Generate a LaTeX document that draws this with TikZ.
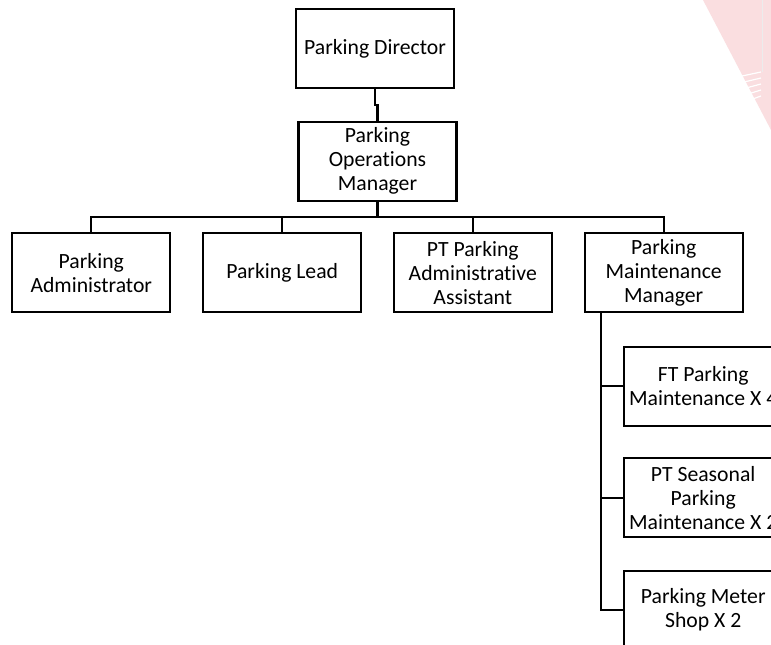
\documentclass[tikz,border=0pt]{standalone}
\usepackage{fontspec}
\setmainfont{Carlito}[Ligatures=NoCommon]
\definecolor{markpink}{RGB}{250,222,224}
\begin{document}
\begin{tikzpicture}[x=1pt,y=-1pt,
  post/.style={draw=black,line width=2.2pt,rectangle,minimum width=158pt,minimum height=79pt,
    inner sep=0pt,align=center,font=\fontsize{21.7}{24}\selectfont},
  link/.style={draw=black,line width=2.2pt}]
\useasboundingbox (0,0) rectangle (771,645);
\clip (0,0) rectangle (771,645);
\fill[white] (0,0) rectangle (771,645);

% faint logo in the corner
\fill[markpink] (703,0) -- (771,0) -- (771,130) -- cycle;
\draw[white!85!gray,line width=1pt] (762.5,0) -- (762.5,72);
\foreach \k in {0,1,2,3,4}
  \draw[white,line width=1.2pt] (742+2*\k,76+6*\k) -- (761,72+6*\k);

% positions
\node[post] (dir)   at (375,48.8)    {Parking Director};
\node[post] (ops)   at (377.5,161.2) {Parking\\Operations\\Manager};
\node[post] (adm)   at (91.3,272.8)  {Parking\\Administrator};
\node[post] (lead)  at (282.2,272.8) {Parking Lead};
\node[post] (pta)   at (472.8,272.8) {PT Parking\\Administrative\\Assistant};
\node[post] (pmm)   at (663.7,272.8) {Parking\\Maintenance\\Manager};
\node[post] (ft)    at (703.2,386.2) {FT Parking\\Maintenance X 4};
\node[post] (pts)   at (703.2,497.8) {PT Seasonal\\Parking\\Maintenance X 2};
\node[post] (meter) at (703.2,610.2) {Parking Meter\\Shop X 2};

\coordinate (jog) at (0,105);
\coordinate (bar) at (0,217.3);
\coordinate (spine) at (601,0);

% director to operations manager
\draw[link] (dir.south) -- (dir.south |- jog) -- (ops.north |- jog) -- (ops.north);

% operations manager to its reports
\draw[link] (ops.south) -- (ops.south |- bar);
\draw[link] (adm.north) -- (adm.north |- bar) -- (pmm.north |- bar) -- (pmm.north);
\draw[link] (lead.north) -- (lead.north |- bar);
\draw[link] (pta.north) -- (pta.north |- bar);

% maintenance manager to its reports
\draw[link] (pmm.south -| spine) -- (meter.west -| spine) -- (meter.west);
\draw[link] (ft.west -| spine) -- (ft.west);
\draw[link] (pts.west -| spine) -- (pts.west);
\end{tikzpicture}
\end{document}
